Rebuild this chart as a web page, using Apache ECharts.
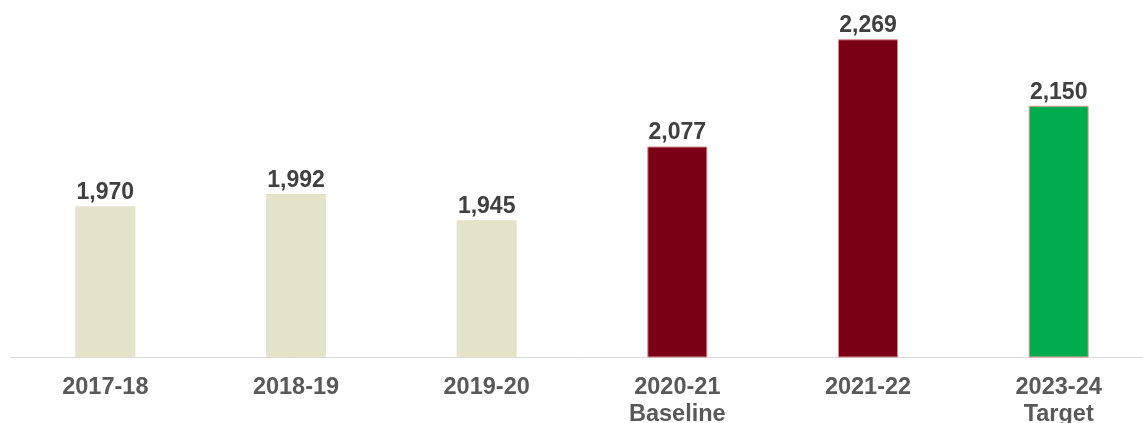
<!DOCTYPE html>
<html>
<head>
<meta charset="utf-8">
<script src="https://cdn.jsdelivr.net/npm/echarts@6/dist/echarts.min.js"></script>
<style>
  html, body { margin: 0; padding: 0; background: #ffffff; overflow: hidden; }
  #chart { width: 1143px; height: 423px; }
</style>
</head>
<body>
<div id="chart"></div>
<script>
// Annual totals, with the baseline year and the target year marked
const categories = ['2017-18', '2018-19', '2019-20', '2020-21\nBaseline', '2021-22', '2023-24\nTarget'];
const values = [1970, 1992, 1945, 2077, 2269, 2150];
const barKinds = ['past', 'past', 'past', 'recent', 'recent', 'target'];

const kindStyle = {
  past:   { color: '#E5E3CA', borderColor: '#E5E3CA', borderWidth: 0 },
  recent: { color: '#7A0016', borderColor: '#D98A8F', borderWidth: 1 },
  target: { color: '#00AD4E', borderColor: '#E59A9A', borderWidth: 1 }
};

const FONT = "'Liberation Sans', Arial, sans-serif";

const chart = echarts.init(document.getElementById('chart'), null, { renderer: 'canvas' });

chart.setOption({
  animation: false,
  // the plot runs a little past the right edge so the last band is cut off
  grid: { left: 10, width: 1144, top: 22, bottom: 66, containLabel: false, outerBoundsMode: 'none' },
  xAxis: {
    type: 'category',
    data: categories,
    axisLine: { show: true, lineStyle: { color: '#D9D9D9', width: 1 } },
    axisTick: { show: false },
    axisLabel: {
      color: '#595959',
      fontFamily: FONT,
      fontWeight: 'bold',
      fontSize: 23.5,
      lineHeight: 27,
      margin: 17
    }
  },
  yAxis: {
    type: 'value',
    min: 1700,
    max: 2300,
    show: false,
    splitLine: { show: false }
  },
  series: [{
    type: 'bar',
    barWidth: 60,
    data: values.map((v, i) => ({ value: v, itemStyle: kindStyle[barKinds[i]] })),
    label: {
      show: true,
      position: 'top',
      distance: 2,
      color: '#404040',
      fontFamily: FONT,
      fontWeight: 'bold',
      fontSize: 23,
      formatter: p => p.value.toLocaleString('en-US')
    }
  }]
});
</script>
</body>
</html>
